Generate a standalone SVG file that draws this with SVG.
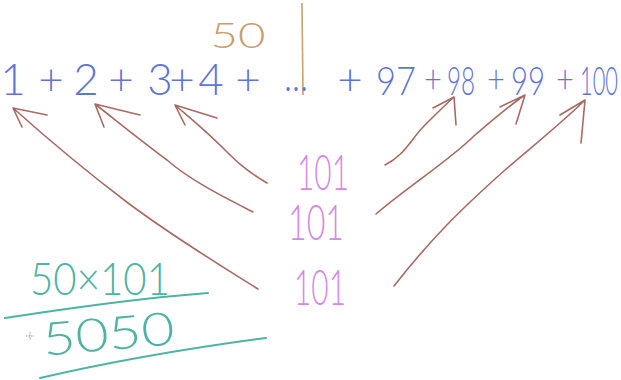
<svg xmlns="http://www.w3.org/2000/svg" width="621" height="380" viewBox="0 0 621 380">
<style>
.t{font-family:Lato,"Open Sans","Liberation Sans",sans-serif;font-weight:300}
.blue{fill:#5f74d4;font-size:44px}
.sm{font-size:40px}
.pink{fill:#d48ae4;font-size:50px}
.green{fill:#4fb3a2;font-size:46px}
.tan{fill:#c9a070;font-size:36px}
.arr{fill:none;stroke:#a86a62;stroke-width:1.6;stroke-linecap:round;stroke-linejoin:round}
.gl{fill:none;stroke:#4fb3a2;stroke-width:2;stroke-linecap:round}
</style>
<rect width="621" height="380" fill="#ffffff"/>
<g id="label-50">
<text class="t tan" x="238" y="48" text-anchor="middle" textLength="55" lengthAdjust="spacingAndGlyphs">50</text>
<path d="M302 3 L303 95" fill="none" stroke="#c9a070" stroke-width="1.6"/>
</g>
<g id="sum" class="t blue" text-anchor="middle">
<text x="13" y="95">1</text>
<text x="51" y="95">+</text>
<text x="86" y="95">2</text>
<text x="121" y="95">+</text>
<text x="160" y="95">3</text>
<text x="182" y="95">+</text>
<text x="211" y="95">4</text>
<text x="248" y="95">+</text>
<text x="296" y="91" textLength="24" lengthAdjust="spacingAndGlyphs">...</text>
<text x="350" y="95">+</text>
<text class="sm" x="396" y="95" textLength="40" lengthAdjust="spacingAndGlyphs">97</text>
<text class="sm" x="433" y="93" textLength="18" lengthAdjust="spacingAndGlyphs">+</text>
<text class="sm" x="461" y="95" textLength="28" lengthAdjust="spacingAndGlyphs">98</text>
<text class="sm" x="496" y="93" textLength="18" lengthAdjust="spacingAndGlyphs">+</text>
<text class="sm" x="528" y="95" textLength="34" lengthAdjust="spacingAndGlyphs">99</text>
<text class="sm" x="565" y="93" textLength="18" lengthAdjust="spacingAndGlyphs">+</text>
<text class="sm" x="599" y="95" textLength="38" lengthAdjust="spacingAndGlyphs">100</text>
</g>
<g id="pairs">
<text class="t pink" x="323" y="190" text-anchor="middle" textLength="52" lengthAdjust="spacingAndGlyphs">101</text>
<text class="t pink" x="316" y="240" text-anchor="middle" textLength="56" lengthAdjust="spacingAndGlyphs">101</text>
<text class="t pink" x="320" y="305" text-anchor="middle" textLength="52" lengthAdjust="spacingAndGlyphs">101</text>
</g>
<g id="connectors">
<path class="arr" d="M258 289 C215 262 175 238 128 203 C95 178 60 150 13 108 M13 108 L47 115 M13 108 L22 127"/>
<path class="arr" d="M253 212 C220 195 190 180 167 160 C140 140 118 122 95 104 M95 104 L140 115 M95 104 L104 127"/>
<path class="arr" d="M267 183 C245 170 235 160 225 150 C205 130 190 118 175 105 M175 105 L217 118 M175 105 L185 125"/>
<path class="arr" d="M385 165 C405 155 410 140 425 125 C435 115 445 105 454 97 M454 97 L433 108 M454 97 L456 125"/>
<path class="arr" d="M376 214 C410 185 450 160 475 135 C495 118 510 105 525 95 M525 95 L500 107 M525 95 L516 124"/>
<path class="arr" d="M394 286 C430 240 460 210 505 170 C540 140 565 120 585 100 M585 100 L560 115 M585 100 L581 143"/>
</g>
<g id="result">
<text class="t green" x="100" y="295" text-anchor="middle" textLength="140" lengthAdjust="spacingAndGlyphs">50×101</text>
<path class="gl" d="M5 318 C70 308 140 298 208 293"/>
<text class="t green" x="109" y="350" text-anchor="middle" textLength="132" lengthAdjust="spacingAndGlyphs" transform="rotate(-5 109 340)">5050</text>
<path class="gl" d="M40 378 C110 362 190 348 266 338"/>
<path d="M30 332 V340 M26 336 H34" stroke="#999" stroke-width="1" stroke-dasharray="1.5 1"/>
</g>
</svg>
